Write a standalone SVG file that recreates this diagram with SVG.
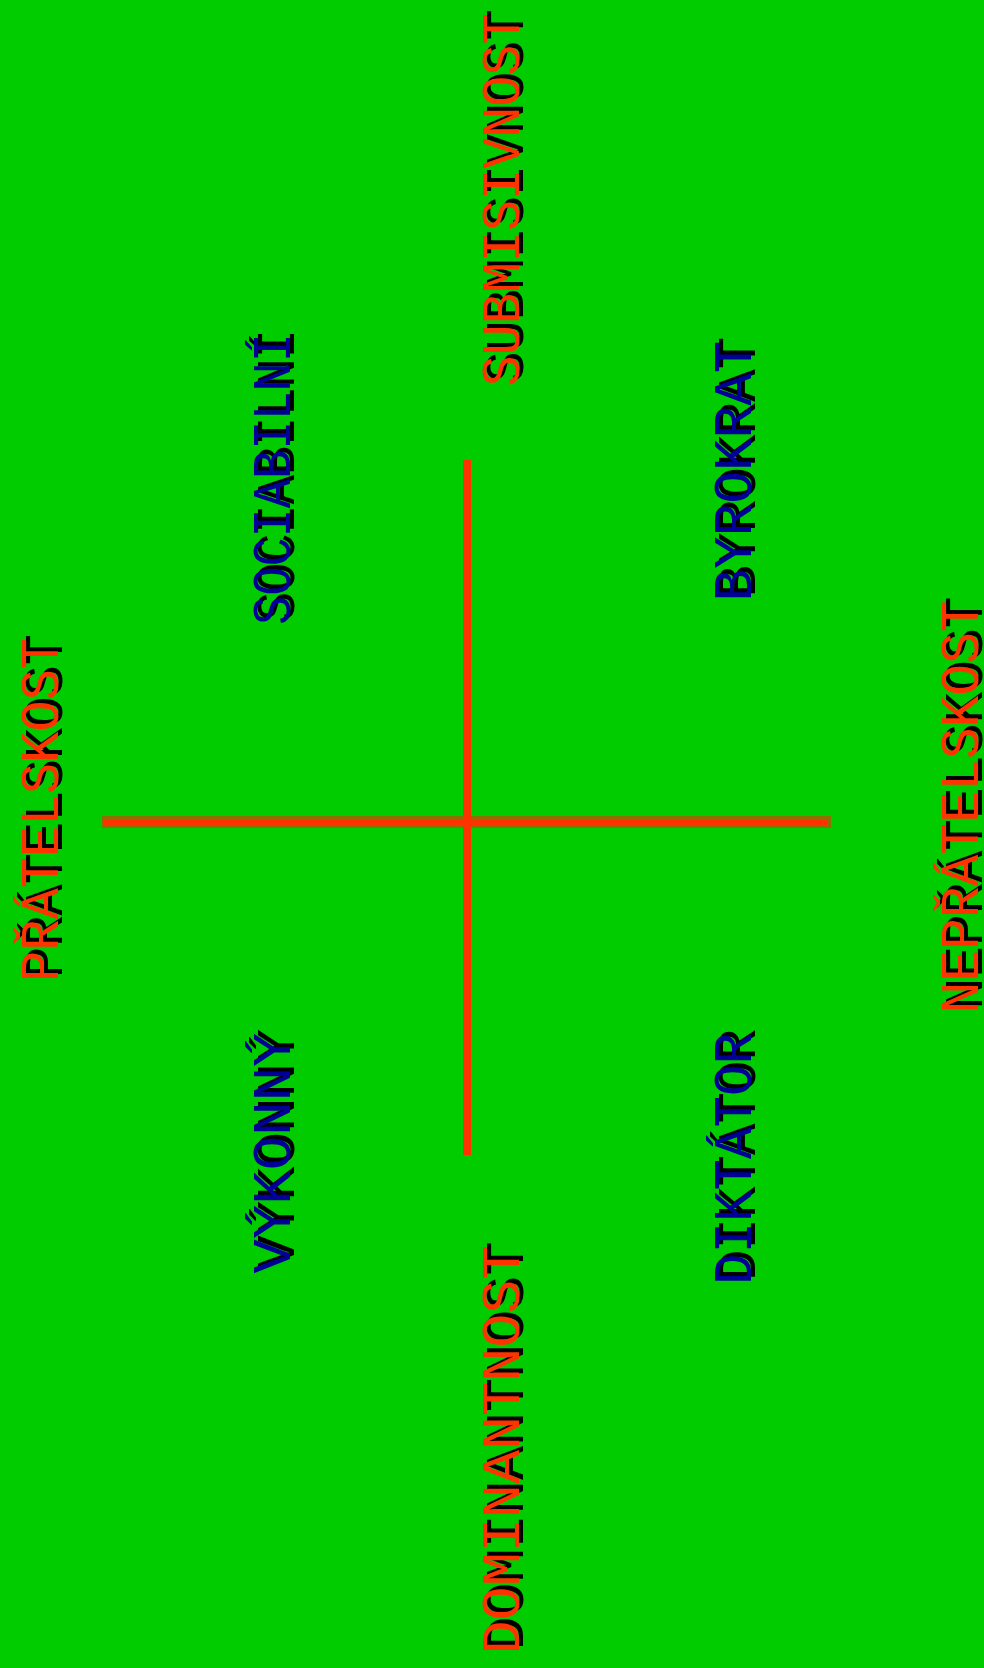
<svg xmlns="http://www.w3.org/2000/svg" width="984" height="1668" viewBox="0 0 984 1668">
<style>
text{font-family:"Liberation Mono","DejaVu Sans Mono",monospace;font-size:53px;text-anchor:middle}
.sh{fill:#000000}
.ax{fill:#ff3300}
.q{fill:#000099}
</style>
<rect x="0" y="0" width="984" height="1668" fill="#00cc00"/>
<g id="connectors">
<rect x="102" y="816" width="729" height="12" fill="#8f6f00"/>
<rect x="104" y="820" width="723" height="5" fill="#ff3300"/>
<rect x="463" y="460" width="8" height="695" fill="#ff3300"/>
</g>
<g id="submisivnost" transform="translate(519,200) rotate(-90)">
<text class="sh" x="4" y="4" textLength="373" lengthAdjust="spacingAndGlyphs">SUBMISIVNOST</text>
<text class="ax" x="0" y="0" textLength="373" lengthAdjust="spacingAndGlyphs">SUBMISIVNOST</text>
</g>
<g id="pratelskost" transform="translate(58,810) rotate(-90)">
<text class="sh" x="4" y="4" textLength="344" lengthAdjust="spacingAndGlyphs">PŘÁTELSKOST</text>
<text class="ax" x="0" y="0" textLength="344" lengthAdjust="spacingAndGlyphs">PŘÁTELSKOST</text>
</g>
<g id="nepratelskost" transform="translate(978,807) rotate(-90)">
<text class="sh" x="4" y="4" textLength="413" lengthAdjust="spacingAndGlyphs">NEPŘÁTELSKOST</text>
<text class="ax" x="0" y="0" textLength="413" lengthAdjust="spacingAndGlyphs">NEPŘÁTELSKOST</text>
</g>
<g id="dominantnost" transform="translate(519,1450) rotate(-90)">
<text class="sh" x="4" y="4" textLength="409" lengthAdjust="spacingAndGlyphs">DOMINANTNOST</text>
<text class="ax" x="0" y="0" textLength="409" lengthAdjust="spacingAndGlyphs">DOMINANTNOST</text>
</g>
<g id="sociabilni" transform="translate(290,479) rotate(-90)">
<text class="sh" x="4" y="4" textLength="292" lengthAdjust="spacingAndGlyphs">SOCIABILNÍ</text>
<text class="q" x="0" y="0" textLength="292" lengthAdjust="spacingAndGlyphs">SOCIABILNÍ</text>
</g>
<g id="byrokrat" transform="translate(751,471) rotate(-90)">
<text class="sh" x="4" y="4" textLength="261" lengthAdjust="spacingAndGlyphs">BYROKRAT</text>
<text class="q" x="0" y="0" textLength="261" lengthAdjust="spacingAndGlyphs">BYROKRAT</text>
</g>
<g id="vykonny" transform="translate(290,1153) rotate(-90)">
<text class="sh" x="4" y="4" textLength="241" lengthAdjust="spacingAndGlyphs">VÝKONNÝ</text>
<text class="q" x="0" y="0" textLength="241" lengthAdjust="spacingAndGlyphs">VÝKONNÝ</text>
</g>
<g id="diktator" transform="translate(751,1159) rotate(-90)">
<text class="sh" x="4" y="4" textLength="252" lengthAdjust="spacingAndGlyphs">DIKTÁTOR</text>
<text class="q" x="0" y="0" textLength="252" lengthAdjust="spacingAndGlyphs">DIKTÁTOR</text>
</g>
</svg>
